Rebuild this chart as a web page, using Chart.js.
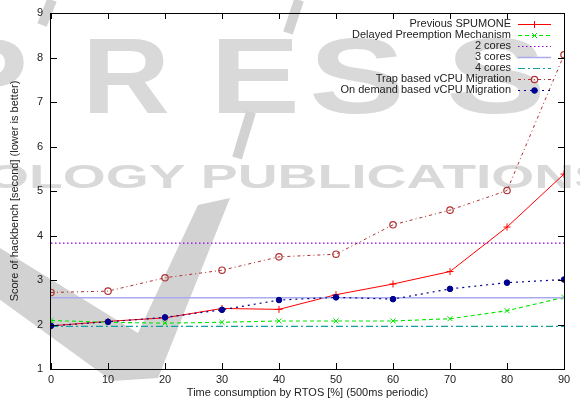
<!DOCTYPE html>
<html>
<head>
<meta charset="utf-8">
<script src="https://cdn.jsdelivr.net/npm/chart.js@4"></script>
<style>
  html, body { margin: 0; padding: 0; background: #fff; }
  #wrap { width: 580px; height: 405px; }
</style>
</head>
<body>
<div id="wrap"><canvas id="hackbench" width="580" height="405"></canvas></div>
<script>
// RTOS load in percent (x axis)
const rtosLoad = [0, 10, 20, 30, 40, 50, 60, 70, 80, 90];

// hackbench score in seconds per configuration
const prevSpumone = [1.97, 2.07, 2.15, 2.36, 2.34, 2.67, 2.91, 3.19, 4.19, 5.38];
const delayedPreempt = [2.09, 2.05, 2.03, 2.05, 2.08, 2.08, 2.08, 2.13, 2.31, 2.61];
const trapMigration = [2.72, 2.75, 3.05, 3.22, 3.52, 3.58, 4.24, 4.57, 5.01, 8.06];
const onDemandMigration = [1.97, 2.06, 2.16, 2.33, 2.55, 2.61, 2.57, 2.80, 2.94, 3.01];

// flat baselines for plain multicore runs
const twoCores = 3.83;
const threeCores = 2.60;
const fourCores = 1.96;

const xTicks = [0, 10, 20, 30, 40, 50, 60, 70, 80, 90];
const yTicks = [1, 2, 3, 4, 5, 6, 7, 8, 9];

const FONT = '"Liberation Sans", Arial, sans-serif';

function pts(values) {
    return rtosLoad.map((x, i) => ({ x, y: values[i] }));
}
function flat(v) {
    return [{ x: rtosLoad[0], y: v }, { x: rtosLoad[rtosLoad.length - 1], y: v }];
}

const datasets = [
    { label: 'Previous SPUMONE', data: pts(prevSpumone), borderColor: '#ff0000', borderWidth: 1,
      pointStyle: 'cross', pointRadius: 3.5, pointBorderColor: '#ff0000', pointBorderWidth: 1 },
    { label: 'Delayed Preemption Mechanism', data: pts(delayedPreempt), borderColor: '#00e600', borderWidth: 1.1,
      borderDash: [4, 3], pointStyle: 'crossRot', pointRadius: 3.5, pointBorderColor: '#00e600', pointBorderWidth: 1 },
    { label: '2 cores', data: flat(twoCores), borderColor: '#9400d3', borderWidth: 1.2,
      borderDash: [1.5, 2.5], pointRadius: 0 },
    { label: '3 cores', data: flat(threeCores), borderColor: '#aaaaee', borderWidth: 1.5, pointRadius: 0 },
    { label: '4 cores', data: flat(fourCores), borderColor: '#10a0a0', borderWidth: 1.2,
      borderDash: [7, 3, 2, 3], pointRadius: 0 },
    { label: 'Trap based vCPU Migration', data: pts(trapMigration), borderColor: '#b03030', borderWidth: 1,
      borderDash: [3, 3, 1, 3], pointStyle: 'circle', pointRadius: 3.2, pointBackgroundColor: 'rgba(0,0,0,0)',
      pointBorderColor: '#b03030', pointBorderWidth: 1.2 },
    { label: 'On demand based vCPU Migration', data: pts(onDemandMigration), borderColor: '#000090', borderWidth: 1.2,
      borderDash: [2, 4], pointStyle: 'circle', pointRadius: 2.8, pointBackgroundColor: '#000090',
      pointBorderColor: '#000090', pointBorderWidth: 1 }
];
// later series sit on top, like gnuplot
datasets.forEach((d, i) => { d.order = datasets.length - i; d.fill = false; d.tension = 0; });

function wideText(ctx, text, x, baseline, width) {
    const w = ctx.measureText(text).width;
    ctx.save();
    ctx.translate(x, baseline);
    ctx.scale(width / w, 1);
    ctx.fillText(text, 0, 0);
    ctx.restore();
}

// faint publisher watermark behind everything
const watermark = {
    id: 'watermark',
    beforeDraw(chart) {
        const ctx = chart.ctx;
        ctx.save();
        ctx.fillStyle = '#ffffff';
        ctx.fillRect(0, 0, chart.width, chart.height);
        ctx.fillStyle = '#d9d9d9';
        ctx.textAlign = 'left';
        ctx.textBaseline = 'alphabetic';
        ctx.font = 'bold 108px ' + FONT;
        [['P', -58, 86], ['R', 82, 88], ['E', 210, 90], ['S', 309, 96], ['S', 446, 100]].forEach(([ch, x, w]) => {
            wideText(ctx, ch, x, 113, w);
        });
        ctx.font = 'bold 33px ' + FONT;
        wideText(ctx, 'OLOGY PUBLICATIONS', -14, 188, 625);

        // check mark swoosh
        ctx.fillStyle = '#d2d2d2';
        ctx.beginPath();
        ctx.moveTo(-5, 245);
        ctx.lineTo(138, 333);
        ctx.lineTo(198, 205);
        ctx.lineTo(230, 198);
        ctx.lineTo(158, 378);
        ctx.lineTo(112, 381);
        ctx.lineTo(-5, 296);
        ctx.closePath();
        ctx.fill();
        ctx.strokeStyle = '#d2d2d2';
        ctx.lineCap = 'butt';
        ctx.lineWidth = 10;
        ctx.beginPath();
        ctx.moveTo(237, 158); ctx.lineTo(251, 112);
        ctx.moveTo(288, 33); ctx.lineTo(299, 0);
        ctx.moveTo(42, 25); ctx.lineTo(52, 0);
        ctx.stroke();
        ctx.restore();
    }
};

// gnuplot style box with inward ticks, tick labels, axis titles and key
const frame = {
    id: 'frame',
    afterDatasetsDraw(chart) {
        const ctx = chart.ctx;
        const a = chart.chartArea;
        const xs = chart.scales.x, ys = chart.scales.y;
        ctx.save();
        ctx.strokeStyle = '#000';
        ctx.lineWidth = 1;
        ctx.strokeRect(Math.round(a.left) - 0.5, Math.round(a.top) + 0.5,
            Math.round(a.right - a.left) + 1, Math.round(a.bottom - a.top));
        ctx.beginPath();
        xTicks.forEach(v => {
            const px = Math.round(xs.getPixelForValue(v)) + 0.5;
            ctx.moveTo(px, a.bottom); ctx.lineTo(px, a.bottom - 6);
            ctx.moveTo(px, a.top); ctx.lineTo(px, a.top + 6);
        });
        yTicks.forEach(v => {
            const py = Math.round(ys.getPixelForValue(v)) + 0.5;
            ctx.moveTo(a.left, py); ctx.lineTo(a.left + 6, py);
            ctx.moveTo(a.right, py); ctx.lineTo(a.right - 6, py);
        });
        ctx.stroke();

        ctx.fillStyle = '#222';
        ctx.font = '11px ' + FONT;
        ctx.textBaseline = 'middle';
        ctx.textAlign = 'right';
        yTicks.forEach(v => ctx.fillText(String(v), a.left - 8, ys.getPixelForValue(v)));
        ctx.textAlign = 'center';
        xTicks.forEach(v => ctx.fillText(String(v), xs.getPixelForValue(v), a.bottom + 11));

        ctx.fillText('Time consumption by RTOS [%] (500ms periodic)', (a.left + a.right) / 2, 393);
        ctx.save();
        ctx.translate(15, (a.top + a.bottom) / 2);
        ctx.rotate(-Math.PI / 2);
        ctx.fillText('Score of hackbench [second] (lower is better)', 0, 0);
        ctx.restore();

        // key, text right aligned with a sample to its right
        const textRight = 511, sx0 = 518, sx1 = 551;
        chart.data.datasets.forEach((d, i) => {
            const y = 23.5 + i * 11.1;
            ctx.textAlign = 'right';
            ctx.fillStyle = '#222';
            ctx.fillText(d.label, textRight, y);
            ctx.strokeStyle = d.borderColor;
            ctx.lineWidth = d.borderWidth;
            ctx.setLineDash(d.borderDash || []);
            ctx.beginPath();
            ctx.moveTo(sx0, Math.round(y) + 0.5);
            ctx.lineTo(sx1, Math.round(y) + 0.5);
            ctx.stroke();
            ctx.setLineDash([]);
            if (d.pointRadius) {
                ctx.fillStyle = d.pointBackgroundColor || 'rgba(0,0,0,0)';
                ctx.strokeStyle = d.pointBorderColor;
                ctx.lineWidth = d.pointBorderWidth;
                Chart.helpers.drawPoint(ctx, {
                    pointStyle: d.pointStyle, radius: d.pointRadius, rotation: 0,
                    borderWidth: d.pointBorderWidth
                }, (sx0 + sx1) / 2, Math.round(y) + 0.5);
            }
        });
        ctx.restore();
    }
};

new Chart(document.getElementById('hackbench'), {
    type: 'line',
    data: { datasets },
    options: {
        responsive: false,
        devicePixelRatio: 1,
        animation: false,
        layout: { padding: { top: 13, right: 16, left: 0, bottom: 0 } },
        plugins: { legend: { display: false }, tooltip: { enabled: false } },
        scales: {
            x: {
                type: 'linear', min: 0, max: 90,
                afterFit: s => { s.height = 36; },
                ticks: { display: false, stepSize: 10 },
                grid: { display: false, drawTicks: false },
                border: { display: false }
            },
            y: {
                type: 'linear', min: 1, max: 9,
                afterFit: s => { s.width = 51; },
                ticks: { display: false, stepSize: 1 },
                grid: { display: false, drawTicks: false },
                border: { display: false }
            }
        }
    },
    plugins: [watermark, frame]
});
</script>
</body>
</html>
